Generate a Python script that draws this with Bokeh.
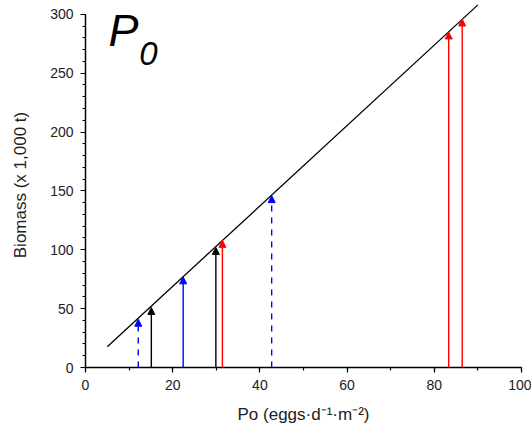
from bokeh.plotting import figure
from bokeh.models import Arrow, NormalHead, Label, FixedTicker, Range1d
from bokeh.embed import file_html
from bokeh.resources import INLINE

# Data
line_x = [5.0, 90.0]
line_y = [17.7, 308.0]

arrow_x = [12.1, 15.1, 22.4, 29.9, 31.4, 42.7, 83.3, 86.4]
arrow_top = [41, 51, 77, 102, 108, 146, 285, 296]
arrow_color = ["#0000FF", "#000000", "#0000FF", "#000000", "#FF0000", "#0000FF", "#FF0000", "#FF0000"]
arrow_dash = ["dashed", "solid", "solid", "solid", "solid", "dashed", "solid", "solid"]

x_ticks = [0, 20, 40, 60, 80, 100]
y_ticks = [0, 50, 100, 150, 200, 250, 300]

FONT = "Liberation Sans"

p = figure(width=531, height=428, output_backend="svg", toolbar_location=None,
           x_range=Range1d(0, 100), y_range=Range1d(0, 310),
           min_border_left=85, min_border_right=10, min_border_top=2, min_border_bottom=61)
p.outline_line_color = None
p.xgrid.grid_line_color = None
p.ygrid.grid_line_color = None

p.line(line_x, line_y, line_color="black", line_width=1.3)

for x, t, c, d in zip(arrow_x, arrow_top, arrow_color, arrow_dash):
    p.add_layout(Arrow(x_start=x, y_start=0, x_end=x, y_end=t,
                       line_color=c, line_width=1.4, line_dash=d,
                       end=NormalHead(size=7, fill_color=c, line_color=c, line_width=1)))

p.add_layout(Label(x=5.3, y=264.2, text="P", text_font=FONT, text_font_size="45px",
                   text_font_style="italic", text_color="black", text_baseline="bottom"))
p.add_layout(Label(x=12.3, y=257.3, text="0", text_font=FONT, text_font_size="33px",
                   text_font_style="italic", text_color="black", text_baseline="bottom"))

for ax in (p.xaxis[0], p.yaxis[0]):
    ax.axis_line_width = 1.5
    ax.axis_line_color = "black"
    ax.major_tick_in = 0
    ax.major_tick_out = 5
    ax.minor_tick_in = 0
    ax.minor_tick_out = 3
    ax.major_tick_line_width = 1.2
    ax.minor_tick_line_width = 1.2
    ax.major_label_text_font = FONT
    ax.major_label_text_font_size = "14px"
    ax.major_label_text_color = "#222222"
    ax.axis_label_text_font = FONT
    ax.axis_label_text_font_size = "17px"
    ax.axis_label_text_font_style = "normal"
    ax.axis_label_text_color = "#222222"

p.xaxis[0].ticker = FixedTicker(ticks=x_ticks, minor_ticks=list(range(0, 101, 10)))
p.yaxis[0].ticker = FixedTicker(ticks=y_ticks, minor_ticks=list(range(0, 301, 10)))
p.yaxis[0].bounds = (0, 300)
p.xaxis[0].axis_label = "Po (eggs·d⁻¹·m⁻²)"
p.yaxis[0].axis_label = "Biomass (x 1,000 t)"
p.xaxis[0].major_label_standoff = 7
p.xaxis[0].axis_label_standoff = 12
p.yaxis[0].major_label_standoff = 7
p.yaxis[0].axis_label_standoff = 17

open("out.html", "w").write(file_html(p, INLINE))
